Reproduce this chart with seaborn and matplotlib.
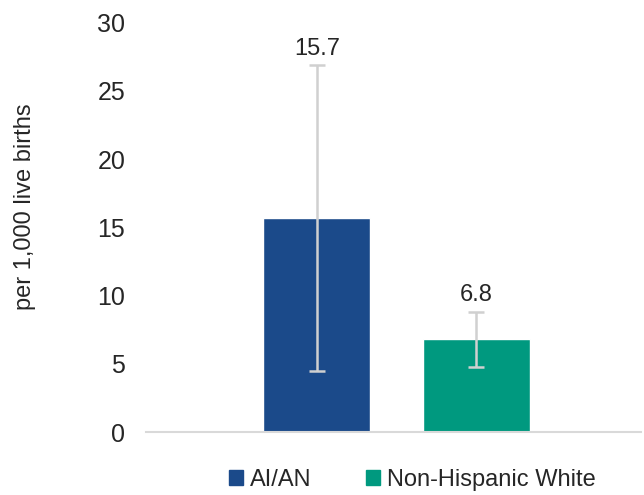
import pandas as pd
import seaborn as sns
import matplotlib.pyplot as plt

# data
groups = ['AI/AN', 'Non-Hispanic White']
rates = [15.7, 6.8]
ci_low = [4.5, 4.8]
ci_high = [26.9, 8.8]
colors = ['#1B4A8A', '#00997F']
y_ticks = [0, 5, 10, 15, 20, 25, 30]

df = pd.DataFrame({'group': groups, 'rate': rates, 'low': ci_low, 'high': ci_high})

sns.set_theme(style='white')
plt.rcParams['font.family'] = ['Liberation Sans', 'DejaVu Sans']

fig = plt.figure(figsize=(6.44, 4.95), dpi=100)
ax = fig.add_axes([0.227, 0.127, 0.768, 0.827])

sns.barplot(data=df, x='group', y='rate', hue='group', order=groups, hue_order=groups,
            palette=colors, saturation=1, width=0.67, legend=False, errorbar=None, ax=ax)

# confidence interval whiskers
yerr = [df['rate'] - df['low'], df['high'] - df['rate']]
ax.errorbar(range(len(groups)), df['rate'], yerr=yerr, fmt='none',
            ecolor='#D0D0D0', elinewidth=1.8, capsize=6, capthick=1.8, zorder=3)

# value labels above the whiskers
for i, row in df.iterrows():
    ax.annotate(f"{row['rate']:.1f}", (i, row['high']), xytext=(0, 4),
                textcoords='offset points', ha='center', va='bottom',
                fontsize=17, color='#262626')

ax.set_ylim(0, 30)
ax.set_yticks(y_ticks)
ax.set_xlim(-1.069, 2.03)
ax.set_xticks([])
ax.set_xlabel('')
ax.set_ylabel('per 1,000 live births', fontsize=17, color='#262626')
ax.yaxis.set_label_coords(-0.222, 0.551)
ax.tick_params(axis='y', labelsize=18, labelcolor='#262626', length=0, pad=15)

sns.despine(ax=ax, left=True)
ax.spines['bottom'].set_color('#D9D9D9')
ax.spines['bottom'].set_linewidth(1.5)

# legend along the bottom
handles = [plt.Rectangle((0, 0), 1, 1, color=c) for c in colors]
fig.legend(handles, groups, loc='center', bbox_to_anchor=(0.64, 0.03), ncol=2,
           frameon=False, fontsize=17, handlelength=0.6, handleheight=0.6,
           handletextpad=0.3, columnspacing=2.3, labelcolor='#262626')

fig.savefig('out.png', dpi=100)
